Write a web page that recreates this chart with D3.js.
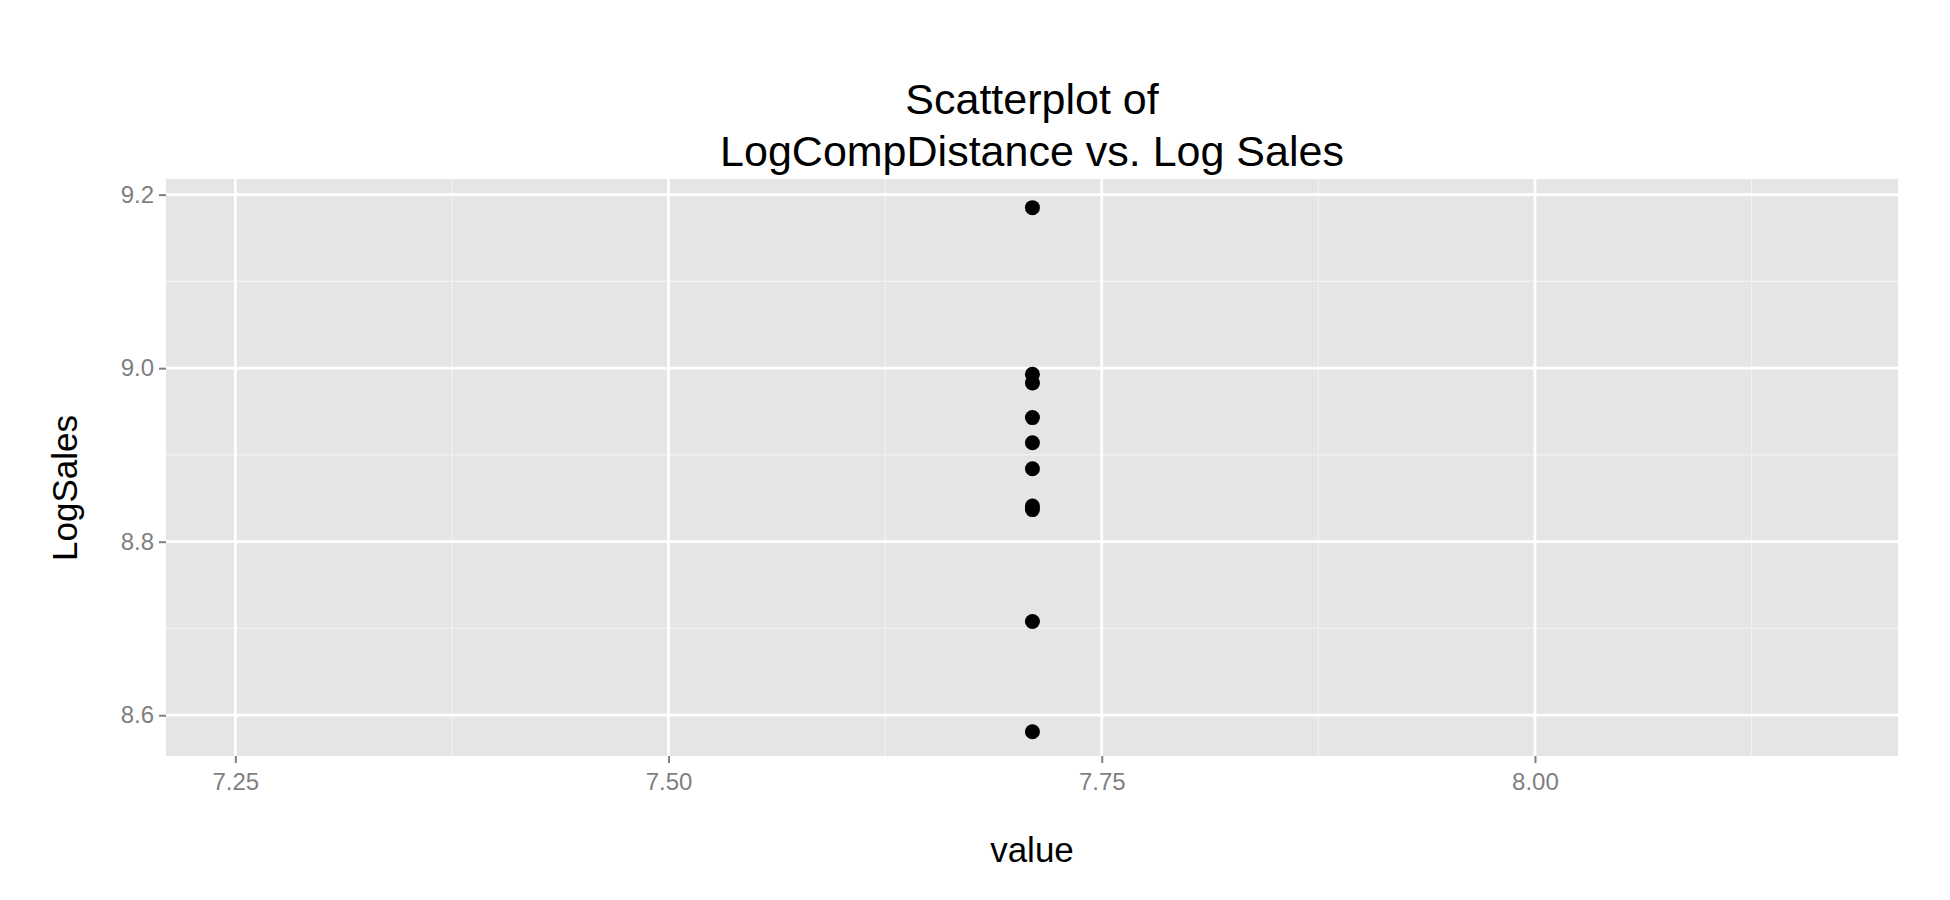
<!DOCTYPE html>
<html>
<head>
<meta charset="utf-8">
<script src="https://cdn.jsdelivr.net/npm/d3@7"></script>
<style>
  body { margin: 0; background: #fff; }
  text { font-family: "Liberation Sans", Arial, sans-serif; }
</style>
</head>
<body>
<div id="scatter"></div>
<script>
// Data
var xValues = [7.71, 7.71, 7.71, 7.71, 7.71, 7.71, 7.71, 7.71, 7.71, 7.71];
var logSales = [9.185, 8.993, 8.983, 8.943, 8.914, 8.884, 8.841, 8.837, 8.708, 8.581];
var xTicks = [7.25, 7.50, 7.75, 8.00];
var yTicks = [8.6, 8.8, 9.0, 9.2];
var titleLines = ["Scatterplot of", "LogCompDistance vs. Log Sales"];

var svgWidth = 1950, svgHeight = 900;
var margin = { top: 179, right: 52, bottom: 144, left: 166 };
var width = svgWidth - margin.left - margin.right;
var height = svgHeight - margin.top - margin.bottom;

var svg = d3.select("#scatter").append("svg")
    .attr("width", svgWidth).attr("height", svgHeight);
var g = svg.append("g").attr("transform", `translate(${margin.left}, ${margin.top})`);

var x = d3.scaleLinear().domain([7.210, 8.2095]).range([0, width]);
var y = d3.scaleLinear().domain([8.553, 9.218]).range([height, 0]);

g.append("rect").attr("width", width).attr("height", height).attr("fill", "#e5e5e5");

// minor grid
var xMinor = [7.375, 7.625, 7.875, 8.125];
var yMinor = [8.7, 8.9, 9.1];
g.selectAll(".xminor").data(xMinor).enter().append("line")
    .attr("x1", d => x(d)).attr("x2", d => x(d)).attr("y1", 0).attr("y2", height)
    .attr("stroke", "#f2f2f2").attr("stroke-width", 1.2);
g.selectAll(".yminor").data(yMinor).enter().append("line")
    .attr("y1", d => y(d)).attr("y2", d => y(d)).attr("x1", 0).attr("x2", width)
    .attr("stroke", "#f2f2f2").attr("stroke-width", 1.2);
// major grid
g.selectAll(".xmajor").data(xTicks).enter().append("line")
    .attr("x1", d => x(d)).attr("x2", d => x(d)).attr("y1", 0).attr("y2", height)
    .attr("stroke", "#fff").attr("stroke-width", 2.8);
g.selectAll(".ymajor").data(yTicks).enter().append("line")
    .attr("y1", d => y(d)).attr("y2", d => y(d)).attr("x1", 0).attr("x2", width)
    .attr("stroke", "#fff").attr("stroke-width", 2.8);

// axes
var xAxis = g.append("g").attr("transform", `translate(0, ${height})`)
    .call(d3.axisBottom(x).tickValues(xTicks).tickFormat(d3.format(".2f")).tickSize(7).tickPadding(10));
var yAxis = g.append("g")
    .call(d3.axisLeft(y).tickValues(yTicks).tickFormat(d3.format(".1f")).tickSize(7).tickPadding(5));
[xAxis, yAxis].forEach(function(a) {
    a.select(".domain").remove();
    a.selectAll("line").attr("stroke", "#7f7f7f").attr("stroke-width", 2);
    a.selectAll("text").attr("fill", "#7f7f7f").attr("font-size", "24px")
        .style("font-family", "Liberation Sans, Arial, sans-serif");
});

// points
g.selectAll("circle").data(logSales).enter().append("circle")
    .attr("cx", (d, i) => x(xValues[i]))
    .attr("cy", d => y(d))
    .attr("r", 7.5)
    .attr("fill", "#000");

// titles
svg.selectAll(".title").data(titleLines).enter().append("text")
    .attr("x", margin.left + width / 2)
    .attr("y", (d, i) => 114 + i * 52)
    .attr("text-anchor", "middle")
    .attr("font-size", "43px")
    .text(d => d);

svg.append("text").attr("x", margin.left + width / 2).attr("y", 862)
    .attr("text-anchor", "middle").attr("font-size", "35px").text("value");

svg.append("text").attr("transform", "translate(64, 488) rotate(-90)")
    .attr("text-anchor", "middle").attr("dominant-baseline", "central")
    .attr("font-size", "35px").text("LogSales");
</script>
</body>
</html>
